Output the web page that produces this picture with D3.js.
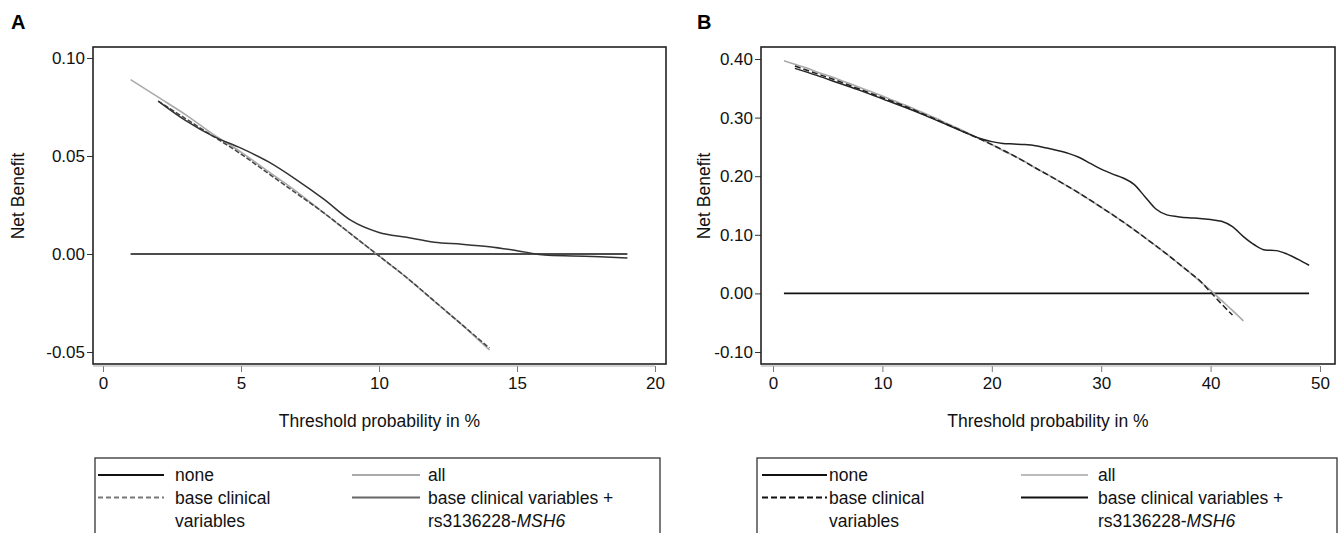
<!DOCTYPE html>
<html>
<head>
<meta charset="utf-8">
<script src="https://cdn.jsdelivr.net/npm/d3@7"></script>
<style>
  body { margin: 0; background: #fff; }
  svg { font-family: "Liberation Sans", Arial, sans-serif; }
</style>
</head>
<body>
<div id="plot"></div>
<script>
// net benefit values (threshold in %)

// panel A
const noneA_x = [1, 19];
const noneA_y = [0, 0];
const allA_x = [1, 2, 3, 4, 5, 6, 7, 8, 9, 10, 11, 12, 13, 14];
const allA_y = [0.089, 0.080, 0.071, 0.061, 0.052, 0.042, 0.032, 0.021, 0.010, -0.001, -0.012, -0.024, -0.036, -0.049];
const baseA_x = [2, 3, 4, 5, 6, 7, 8, 9, 10, 11, 12, 13, 14];
const baseA_y = [0.078, 0.069, 0.060, 0.051, 0.041, 0.031, 0.021, 0.010, -0.001, -0.012, -0.024, -0.036, -0.048];
const modelA_x = [2, 3, 4, 5, 6, 7, 8, 9, 10, 11, 12, 13, 14, 15, 16, 17, 18, 19];
const modelA_y = [0.078, 0.068, 0.060, 0.054, 0.047, 0.038, 0.028, 0.017, 0.011, 0.0085, 0.006, 0.005, 0.0037, 0.0017, -0.0005, -0.001, -0.0014, -0.002];

// panel B
const noneB_x = [1, 49];
const noneB_y = [0, 0];
const allB_x = [1, 2, 3, 4, 5, 6, 7, 8, 9, 10, 11, 12, 13, 14, 15, 16, 17, 18, 19, 20, 21, 22,
  23, 24, 25, 26, 27, 28, 29, 30, 31, 32, 33, 34, 35, 36, 37, 38, 39, 40, 41, 42, 43];
const allB_y = [0.397, 0.391, 0.385, 0.378, 0.372, 0.365, 0.358, 0.351, 0.344, 0.337, 0.329, 0.322,
  0.314, 0.306, 0.298, 0.289, 0.281, 0.272, 0.263, 0.254, 0.244, 0.235, 0.225, 0.214, 0.204, 0.193,
  0.182, 0.171, 0.159, 0.147, 0.135, 0.122, 0.109, 0.095, 0.081, 0.067, 0.052, 0.037, 0.021, 0.005,
  -0.012, -0.029, -0.047];
const baseB_x = [2, 4, 6, 8, 10, 12, 14, 16, 18, 20, 22, 24, 26, 28, 30, 32, 34, 36, 38, 39, 40, 41, 42];
const baseB_y = [0.388, 0.375, 0.362, 0.348, 0.334, 0.320, 0.304, 0.288, 0.271, 0.254, 0.235, 0.214,
  0.193, 0.171, 0.147, 0.122, 0.095, 0.067, 0.037, 0.022, 0.002, -0.018, -0.037];
const modelB_x = [2, 4, 6, 8, 10, 12, 14, 16, 18, 19, 20, 21, 22, 23, 24, 25, 26, 27, 28, 29, 30,
  31, 32, 33, 34, 35, 36, 37, 38, 39, 40, 41, 42, 43, 44, 45, 46, 47, 48, 49];
const modelB_y = [0.384, 0.372, 0.359, 0.346, 0.332, 0.318, 0.303, 0.287, 0.271, 0.264, 0.259, 0.256,
  0.255, 0.254, 0.252, 0.248, 0.244, 0.239, 0.232, 0.222, 0.212, 0.204, 0.197, 0.186, 0.165, 0.144,
  0.134, 0.131, 0.129, 0.128, 0.126, 0.123, 0.114, 0.097, 0.083, 0.074, 0.073, 0.067, 0.058, 0.048];

const xTicksA = [0, 5, 10, 15, 20];
const yTicksA = [-0.05, 0, 0.05, 0.10];
const xTicksB = [0, 10, 20, 30, 40, 50];
const yTicksB = [-0.10, 0, 0.10, 0.20, 0.30, 0.40];

const legendLabels = ["none", "all", ["base clinical", "variables"], ["base clinical variables +", "rs3136228-"]];

const w = 1343;
const h = 533;

const svg = d3.select("#plot")
  .append("svg")
    .attr("width", w)
    .attr("height", h);

svg.append("rect")
    .attr("width", w)
    .attr("height", h)
    .attr("fill", "#fff");

const zip = (xs, ys) => xs.map((x, i) => ({x: x, y: ys[i]}));
// plain hyphen for negatives, like the original
const fmt = d => d3.format(".2f")(d).replace("\u2212", "-");

function drawPanel(p) {
  const g = svg.append("g");

  const xScale = d3.scaleLinear().domain(p.xDomain).range(p.xRange);
  const yScale = d3.scaleLinear().domain(p.yDomain).range(p.yRange);

  // panel letter
  g.append("text")
      .attr("x", p.letterX)
      .attr("y", 29)
      .attr("font-size", 20)
      .attr("font-weight", "bold")
      .text(p.letter);

  // y axis
  const yAxis = d3.axisLeft(yScale)
      .tickValues(p.yTicks)
      .tickSize(6)
      .tickPadding(2)
      .tickFormat(fmt);
  g.append("g")
      .attr("transform", `translate(${p.frame.x0}, 0)`)
      .call(yAxis)
      .call(a => a.select(".domain").remove())
      .call(a => a.selectAll("text").attr("font-size", 17).attr("fill", "#111")
        .attr("font-family", "Liberation Sans, Arial, sans-serif"))
      .call(a => a.selectAll("line").attr("stroke", "#333"));

  // x axis
  const xAxis = d3.axisBottom(xScale)
      .tickValues(p.xTicks)
      .tickSize(6)
      .tickPadding(5);
  g.append("g")
      .attr("transform", `translate(0, ${p.frame.y1 + 2})`)
      .call(xAxis)
      .call(a => a.select(".domain").remove())
      .call(a => a.selectAll("text").attr("font-size", 17).attr("fill", "#111")
        .attr("font-family", "Liberation Sans, Arial, sans-serif"))
      .call(a => a.selectAll("line").attr("stroke", "#777"));

  g.append("line")
      .attr("x1", p.frame.x0)
      .attr("x2", xScale(p.xDomain[1]))
      .attr("y1", p.frame.y1 + 2)
      .attr("y2", p.frame.y1 + 2)
      .attr("stroke", "#aaa");

  // axis titles
  g.append("text")
      .attr("x", (p.frame.x0 + p.frame.x1) / 2)
      .attr("y", 427)
      .attr("text-anchor", "middle")
      .attr("font-size", 17.5)
      .attr("fill", "#111")
      .text("Threshold probability in %");

  g.append("text")
      .attr("transform", `translate(${p.letterX + 13}, 196) rotate(-90)`)
      .attr("text-anchor", "middle")
      .attr("font-size", 17.5)
      .attr("fill", "#111")
      .text("Net Benefit");

  // lines
  const line = d3.line()
      .x(d => xScale(d.x))
      .y(d => yScale(d.y))
      .curve(d3.curveMonotoneX);

  p.series.forEach(s => {
    g.append("path")
        .datum(s.data)
        .attr("d", line)
        .attr("fill", "none")
        .attr("stroke", s.color)
        .attr("stroke-width", s.width)
        .attr("stroke-dasharray", s.dash);
  });

  // frame
  g.append("rect")
      .attr("x", p.frame.x0)
      .attr("y", p.frame.y0)
      .attr("width", p.frame.x1 - p.frame.x0)
      .attr("height", p.frame.y1 - p.frame.y0)
      .attr("fill", "none")
      .attr("stroke", "#222")
      .attr("stroke-width", 1.6);

  // legend
  const lg = g.append("g");
  lg.append("rect")
      .attr("x", p.legend.x0)
      .attr("y", 458)
      .attr("width", p.legend.x1 - p.legend.x0)
      .attr("height", 100)
      .attr("fill", "none")
      .attr("stroke", "#333")
      .attr("stroke-width", 1.3);

  const cols = [p.legend.col1, p.legend.col2];
  legendLabels.forEach((lab, i) => {
    const s = p.series[i];
    const col = cols[i % 2];
    const row = Math.floor(i / 2);
    const ly = 475 + row * 22.5;
    lg.append("line")
        .attr("x1", col.x0)
        .attr("x2", col.x1)
        .attr("y1", ly)
        .attr("y2", ly)
        .attr("stroke", s.legendColor)
        .attr("stroke-width", 1.8)
        .attr("stroke-dasharray", s.legendDash);
    const t = lg.append("text")
        .attr("x", col.tx)
        .attr("y", ly + 6)
        .attr("font-size", 17.5)
        .attr("fill", "#111");
    if (Array.isArray(lab)) {
      t.append("tspan").attr("x", col.tx).text(lab[0]);
      t.append("tspan").attr("x", col.tx).attr("dy", 23).text(lab[1]);
      if (i === 3) {
        t.append("tspan").attr("font-style", "italic").text("MSH6");
      }
    } else {
      t.text(lab);
    }
  });
}

drawPanel({
  letter: "A",
  letterX: 11,
  xDomain: [0, 20], xRange: [103, 655],
  yDomain: [-0.05, 0.10], yRange: [352, 58],
  xTicks: xTicksA, yTicks: yTicksA,
  frame: {x0: 93, x1: 666, y0: 47, y1: 364},
  legend: {x0: 95, x1: 660,
    col1: {x0: 98, x1: 164, tx: 175},
    col2: {x0: 352, x1: 420, tx: 428}},
  series: [
    {data: zip(noneA_x, noneA_y), color: "#111", width: 1.6, dash: null, legendColor: "#111", legendDash: null},
    {data: zip(allA_x, allA_y), color: "#aaa", width: 1.6, dash: null, legendColor: "#aaa", legendDash: null},
    {data: zip(baseA_x, baseA_y), color: "#444", width: 1.5, dash: "5,2", legendColor: "#777", legendDash: "5,3"},
    {data: zip(modelA_x, modelA_y), color: "#333", width: 1.5, dash: null, legendColor: "#666", legendDash: null}
  ]
});

drawPanel({
  letter: "B",
  letterX: 697,
  xDomain: [0, 50], xRange: [773, 1320],
  yDomain: [-0.10, 0.40], yRange: [352, 59],
  xTicks: xTicksB, yTicks: yTicksB,
  frame: {x0: 761, x1: 1335, y0: 47, y1: 364},
  legend: {x0: 757, x1: 1337,
    col1: {x0: 762, x1: 827, tx: 829},
    col2: {x0: 1021, x1: 1088, tx: 1098}},
  series: [
    {data: zip(noneB_x, noneB_y), color: "#111", width: 1.6, dash: null, legendColor: "#111", legendDash: null},
    {data: zip(allB_x, allB_y), color: "#aaa", width: 1.6, dash: null, legendColor: "#bbb", legendDash: null},
    {data: zip(baseB_x, baseB_y), color: "#222", width: 1.5, dash: "6,3", legendColor: "#111", legendDash: "6,3"},
    {data: zip(modelB_x, modelB_y), color: "#222", width: 1.5, dash: null, legendColor: "#111", legendDash: null}
  ]
});
</script>
</body>
</html>
